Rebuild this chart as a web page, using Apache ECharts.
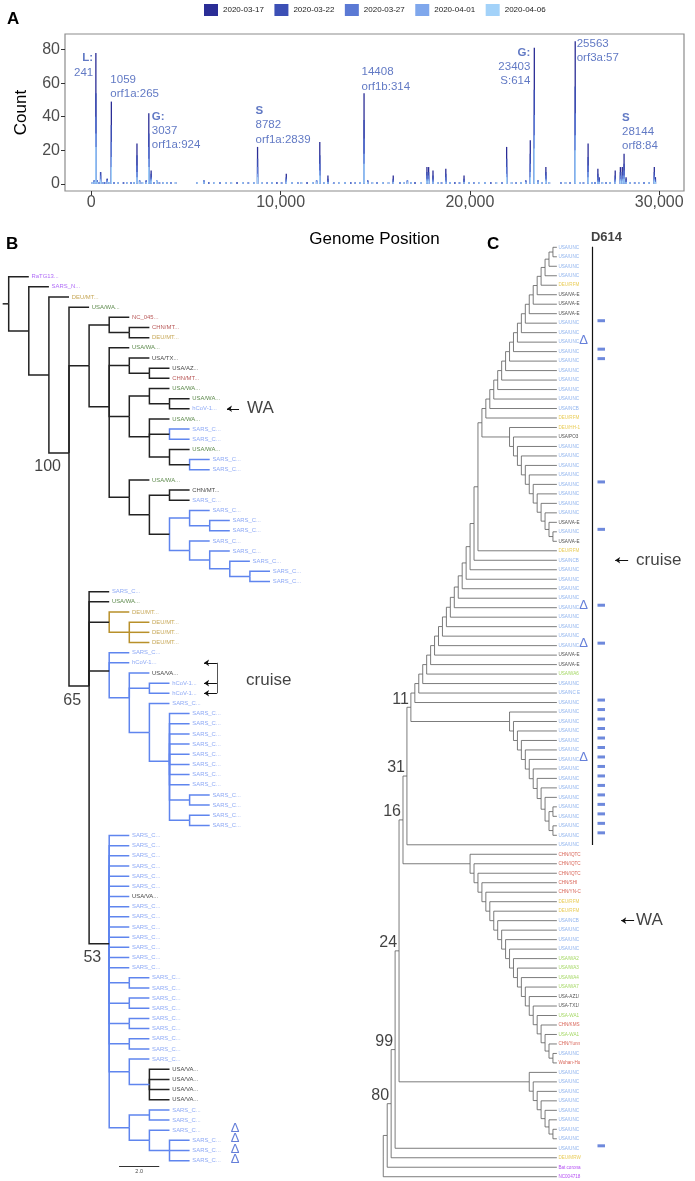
<!DOCTYPE html>
<html><head><meta charset="utf-8">
<script src="https://cdn.jsdelivr.net/npm/echarts@6.0.0/dist/echarts.min.js"></script>
<style>html,body{margin:0;padding:0;background:#fff}#c{width:695px;height:1181px}</style>
</head><body><div id="c"></div>
<script>
const FF = '"Liberation Sans", Arial, Helvetica, sans-serif';

// ================= Panel A data =================
const dates = ['2020-03-17','2020-03-22','2020-03-27','2020-04-01','2020-04-06'];
const dateColors = ['#2b2d96','#3c4fb5','#5b79d4','#7fa7ec','#a3d2f9'];
const genomePositions = [60,150,241,320,420,490,620,700,840,950,1059,1200,1400,1700,1900,2100,2250,2412,2550,2700,2900,3037,3160,3300,3450,3600,3800,4000,4200,4450,5600,5950,6200,6500,6800,7100,7400,7700,8000,8300,8600,8782,9000,9300,9550,9800,10050,10300,10600,10900,11100,11400,11700,11900,12070,12300,12500,12800,13100,13400,13700,13950,14200,14408,14600,14850,15100,15400,15700,15950,16300,16500,16700,16900,17100,17400,17730,17820,18050,18300,18500,18727,18950,19200,19450,19690,19950,20200,20500,20800,21100,21400,21700,21940,22200,22450,22700,22950,23190,23403,23600,23800,24013,24200,24800,25050,25300,25563,25800,26000,26244,26450,26600,26760,26830,27000,27200,27400,27676,27950,28050,28144,28250,28450,28700,28950,29200,29450,29742,29800];
const count0317 = [0,0,24,0,0,0,0,0,0,0, 14,0,0,0,0,0,0,7,0,0, 0,12,2,0,0,0,0,0,0,0, 0,0,0,0,0,0,0,0,0,0, 0,7,0,0,0,0,0,2,0,0, 0,0,0,0,8,0,2,0,0,0, 0,0,0,16,0,0,0,0,0,2, 0,0,0,0,0,0,3,3,3,0, 0,3,0,0,0,2,0,0,0,0, 0,0,0,7,0,0,0,0,8,25, 0,0,3,0,0,0,0,27,0,0, 8,0,0,3,1,0,0,0,3,3, 3,6,1,0,0,0,0,0,3,1];
const count0322 = [0,0,14,0,0,2,0,0,1,0, 10,0,0,0,0,0,0,6,0,0, 0,8,2,0,0,0,0,0,0,0, 0,0,0,0,0,0,0,0,0,0, 0,5,0,0,0,0,0,1,0,0, 0,0,0,0,5,0,1,0,0,0, 0,0,0,11,0,0,0,0,0,1, 0,0,0,0,0,0,2,2,2,0, 0,2,0,0,0,1,0,0,0,0, 0,0,0,5,0,0,0,0,6,15, 0,0,2,0,0,0,0,16,0,0, 5,0,0,2,1,0,0,0,2,2, 2,4,1,0,0,0,0,0,2,1];
const count0327 = [0,0,10,1,0,2,0,1,0,0, 9,0,0,1,0,0,0,4,0,0, 1,7,1,0,0,0,0,0,0,0, 0,0,1,0,0,0,0,1,0,0, 0,4,0,0,0,1,0,1,0,0, 0,1,0,0,4,0,1,0,0,0, 1,0,0,9,1,0,0,0,0,1, 0,0,0,0,1,0,2,2,1,0, 0,2,0,1,0,1,0,0,0,0, 1,0,0,4,0,0,0,1,5,12, 0,0,2,0,0,0,0,13,0,0, 4,0,0,2,1,0,0,0,1,2, 2,3,1,0,0,0,0,0,2,1];
const count0401 = [0,1,8,0,1,1,0,0,1,0, 6,1,0,0,0,1,0,3,1,0, 0,5,1,1,0,1,0,0,1,0, 0,1,0,0,1,0,0,0,0,1, 0,2,0,1,0,0,1,1,0,1, 0,0,0,1,3,0,0,1,0,0, 0,1,0,6,0,0,1,0,0,0, 1,0,1,0,0,0,1,1,1,0, 1,1,0,0,1,0,0,1,0,0, 0,0,1,2,0,1,0,0,3,8, 1,0,1,0,1,0,1,9,0,1, 3,0,1,1,0,0,1,0,1,1, 1,2,0,0,1,0,1,0,1,0];
const count0406 = [1,1,22,1,0,2,1,0,1,1, 10,0,1,0,1,0,1,4,1,1, 1,10,2,0,2,0,1,1,0,1, 1,1,0,1,0,1,1,0,1,0, 1,4,1,0,1,0,0,1,1,0, 1,0,1,1,5,1,1,0,1,1, 0,0,1,12,1,1,0,1,1,1, 0,1,1,1,0,1,2,2,1,1, 0,1,1,0,0,1,1,0,1,1, 0,1,0,4,1,0,1,1,4,21, 1,1,2,1,0,1,0,20,1,0, 4,1,0,1,1,1,0,1,1,2, 2,3,1,1,0,1,0,1,2,1];
const countsByDate = [count0317, count0322, count0327, count0401, count0406];
const xTickValues = [0, 10000, 20000, 30000];
const yTickValues = [0, 20, 40, 60, 80];

// annotated variants (position, bold head, text lines, label top in count units)
const annoPos   = [241, 1059, 3037, 8782, 14408, 23403, 25563, 28144];
const annoHead  = ['L:', '', 'G:', 'S', '', 'G:', '', 'S'];
const annoText  = ['241', '1059\norf1a:265', '3037\norf1a:924', '8782\norf1a:2839', '14408\norf1b:314', '23403\nS:614', '25563\norf3a:57', '28144\norf8:84'];
const annoTopY  = [79, 66.2, 44.2, 47.6, 70.7, 82.5, 87.5, 43.6];
// style: side and pixel offset of the label from its bar
const annoAlign = ['right','left','left','left','left','right','left','left'];
const annoDx    = [-2.7, -1, 3, -2, -2.5, -4, 1.5, -2];

// ================= Panel B tree (elbow, every branch read as 1.0) =================
const treeB = [
  '(RaTG13...@p,(SARS_N...@p,(DEU/MT...@y,(USA/WA...@g,',
  '((NC_045...@r,(CHN/MT...@r,DEU/MT...@y)),',
  '(USA/WA...@g,(USA/TX...@k,(USA/AZ...@k,CHN/MT...@r)),',
  '((USA/WA...@g,(USA/WA...@g,hCoV-1...@b)),(USA/WA...@g,(SARS_C...@b#b,SARS_C...@b#b),(USA/WA...@g,(SARS_C...@b#b,SARS_C...@b#b)))),',
  '(USA/WA...@g,((CHN/MT...@k,SARS_C...@b),((SARS_C...@b#b,(SARS_C...@b#b,SARS_C...@b#b)#b)#b,(SARS_C...@b#b,(SARS_C...@b#b,(SARS_C...@b#b,(SARS_C...@b#b,SARS_C...@b#b)#b)#b)#b)#b)))',
  ')),',
  '(SARS_C...@b,USA/WA...@g,(DEU/MT...@y#y,(DEU/MT...@y#y,DEU/MT...@y#y,DEU/MT...@y#y)#y),',
  '(SARS_C...@b#b,hCoV-1...@b#b,(USA/VA...@k#b,(hCoV-1...@b#b,hCoV-1...@b#b)#b,(SARS_C...@b#b,(SARS_C...@b#b,SARS_C...@b#b,SARS_C...@b#b,SARS_C...@b#b,SARS_C...@b#b,SARS_C...@b#b,SARS_C...@b#b,SARS_C...@b#b,(SARS_C...@b#b,SARS_C...@b#b)#b,(SARS_C...@b#b,SARS_C...@b#b)#b)#b)#b)#b),',
  '(SARS_C...@b#b,SARS_C...@b#b,SARS_C...@b#b,SARS_C...@b#b,SARS_C...@b#b,SARS_C...@b#b,USA/VA...@k#b,',
  'SARS_C...@b#b,SARS_C...@b#b,SARS_C...@b#b,SARS_C...@b#b,SARS_C...@b#b,SARS_C...@b#b,SARS_C...@b#b,',
  '(SARS_C...@b#b,SARS_C...@b#b)#b,(SARS_C...@b#b,SARS_C...@b#b)#b,(SARS_C...@b#b,SARS_C...@b#b)#b,(SARS_C...@b#b,SARS_C...@b#b)#b,',
  '(SARS_C...@b#b,(USA/VA...@k,USA/VA...@k,USA/VA...@k,USA/VA...@k)#b)#b,',
  '((SARS_C...@b#b,SARS_C...@b#b)#b,(SARS_C...@b#b^,(SARS_C...@b#b^,SARS_C...@b#b^,SARS_C...@b#b^)#b)#b)#b',
  ')53)65)100)))'
].join('');
const branchLengthB = 1.0;
const rootEdgeB = 0.3;
const scaleBarB = 2.0;

// ================= Panel C tree (cladogram, tips aligned) =================
const cP1 = '((((((' + '((((((' + '((((((' +
  'USA/UNC@b,USA/UNC@b),USA/UNC@b),USA/UNC@b),DEU/RFM@y),USA/VA-E@k),USA/VA-E@k),USA/VA-E@k),USA/UNC@b*),USA/UNC@b),USA/UNC@b^),USA/UNC@b*),USA/UNC@b*),USA/UNC@b),USA/UNC@b),USA/UNC@b),USA/UNC@b),USA/NCB@b),DEU/RFM@y)';
const cS1 = '(DEU/HH-1@y,(USA/PO3@k,(USA/UNC@b,(USA/UNC@b,(USA/UNC@b,(USA/UNC@b,(USA/UNC@b*,(USA/UNC@b,(USA/UNC@b,(USA/UNC@b,(USA/VA-E@k,(USA/UNC@b*,USA/VA-E@k' + '))))))' + '))))))';
const cSpine = '((((((' + '((((((' + '(((((' + '(' + cP1 + ',' + cS1 + ')' +
  ',DEU/RFM@y),USA/NCB@b),USA/UNC@b),USA/UNC@b),USA/UNC@b),USA/UNC@b),USA/UNC@b^*),USA/UNC@b),USA/UNC@b),USA/UNC@b),USA/UNC@b^*),USA/VA-E@k),USA/VA-E@k),USA/WA6@g),USA/UNC@b),USA/NC E@b),USA/UNC@b*)';
const cT2 = '(USA/UNC@b*,(USA/UNC@b*,(USA/UNC@b*,(USA/UNC@b*,(USA/UNC@b*,(USA/UNC@b^*,(USA/UNC@b*,(USA/UNC@b*,(USA/UNC@b*,(USA/UNC@b*,((USA/UNC@b*,USA/UNC@b*),(USA/UNC@b*,USA/UNC@b*' + '))))))' + '))))))';
const cCHN = '(CHN/IQTC@r,(CHN/IQTC@r,(CHN/IQTC@r,(CHN/SHI@r,(CHN/YN-C@r,(DEU/RFM@y,(DEU/RFM@y,(USA/NCB@b,(USA/UNC@b,(USA/UNC@b,(USA/UNC@b,(USA/WA2@g,(USA/WA3@g,(USA/WA4@g,(USA/WA7@g,(USA-AZ1/@k,(USA-TX1/@k,(USA-WA1@g,(CHN/KMS@r,(USA-WA1@g,(CHN/Yunn@r,(USA/UNC@b,Wuhan-Hu@r' + '))))))))))' + '))))))))))' + '))';
const cT3 = '(USA/UNC@b,(USA/UNC@b,(USA/UNC@b,(USA/UNC@b,(USA/UNC@b,(USA/UNC@b,(USA/UNC@b,USA/UNC@b)))))))';
const cN11 = '(' + cSpine + ',' + cT2 + ')11';
const cN31 = '(' + cN11 + ',USA/UNC@b)31';
const cN16 = '(' + cN31 + ',' + cCHN + ')16';
const cN24 = '(' + cN16 + ',' + cT3 + ')24';
const cN99 = '(' + cN24 + ',USA/UNC@b*)99';
const cN80 = '(' + cN99 + ',DEU/MRW@y)80';
const treeC = '((' + cN80 + ',Bat corona@p),NC004718@p)';
const d614LeafRange = [0, 63];   // leaves carrying D614 bar (0-based)

// ================= colours =================
const colB = {p:'#9b45f5', y:'#b8902a', g:'#336b1e', r:'#a83030', k:'#111111', b:'#6f92f2'};
const edgeColB = {k:'#222222', b:'#5f85ee', y:'#b8902a'};
const colC = {b:'#74a0ea', y:'#e3bf2c', k:'#222222', g:'#8ccd3a', r:'#d0402f', p:'#a020f0'};
const markBlue = '#4a6bd3';

// ================= tree helpers =================
function parseTree(str){
  let i = 0;
  function node(){
    const n = {children: []};
    if (str[i] === '('){
      i++;
      for(;;){
        n.children.push(node());
        if (str[i] === ','){ i++; continue; }
        if (str[i] === ')'){ i++; break; }
        throw new Error('parse error at ' + i + ': ' + str.slice(Math.max(0,i-15), i+15));
      }
    }
    let tok = '';
    while (i < str.length && ',()'.indexOf(str[i]) < 0) tok += str[i++];
    const m = tok.match(/^([^@#\^\*]*)(?:@(\w))?(?:#(\w))?([\^\*]*)$/);
    if (!m) throw new Error('bad token ' + tok);
    n.name = m[1]; n.lc = m[2] || 'k'; n.ec = m[3] || 'k';
    n.delta = m[4].indexOf('^') >= 0; n.mark = m[4].indexOf('*') >= 0;
    return n;
  }
  const r = node();
  if (i !== str.length) throw new Error('trailing at ' + i);
  return r;
}
function layoutTree(root){
  const leaves = [], internals = [];
  let k = 0;
  (function rec(n, depth){
    n.depth = depth;
    if (!n.children.length){ n.y = k++; n.h = 0; leaves.push(n); return; }
    n.children.forEach(c => rec(c, depth + branchLengthB));
    n.y = n.children.reduce((s,c)=>s+c.y,0) / n.children.length;
    n.h = 1 + Math.max.apply(null, n.children.map(c=>c.h));
    internals.push(n);
  })(root, 0);
  return {root, leaves, internals};
}
function edges(t, xOf, colMap){
  const out = [];
  t.internals.forEach(p => p.children.forEach(c => {
    out.push({coords: [[xOf(p), p.y], [xOf(p), c.y], [xOf(c), c.y]], lineStyle: {color: colMap[c.ec]}});
  }));
  return out;
}

const TB = layoutTree(parseTree(treeB));
const TC = layoutTree(parseTree(treeC));
const xB = n => n.depth, xC = n => n.h;

// layout constants (axis units)
const B_DELTA_X = 11.26, C_DELTA_X = -6.74, C_MARK_X = -11.24, C_D614_X = -8.89;

// ================= series =================
const series = [];
// stacked bars: later dates at the bottom; each layer drawn as the running total, tallest first
for (let k = 0; k < dates.length; k++){
  series.push({
    type: 'bar', name: dates[k], xAxisIndex: 0, yAxisIndex: 0, barGap: '-100%',
    barWidth: 1.3, silent: true, itemStyle: {color: dateColors[k]},
    data: genomePositions.map((p, i) => {
      let s = 0; for (let j = k; j < dates.length; j++) s += countsByDate[j][i];
      return [p, s];
    })
  });
}
series.push({
  type: 'scatter', xAxisIndex: 0, yAxisIndex: 0, symbolSize: 0, silent: true, clip: false,
  itemStyle: {color: 'transparent'},
  data: annoPos.map((p, i) => ({
    value: [p, annoTopY[i]],
    label: {align: annoAlign[i], position: [annoDx[i], 0]}
  })),
  label: {
    show: true, verticalAlign: 'top',
    formatter: p => {
      const i = p.dataIndex;
      let s = annoHead[i] ? '{h|' + annoHead[i] + '}\n' : '';
      return s + annoText[i].split('\n').map(t => '{n|' + t + '}').join('\n');
    },
    rich: {
      h: {fontFamily: FF, fontSize: 11.5, fontWeight: 'bold', lineHeight: 14.2, color: '#3a57b5'},
      n: {fontFamily: FF, fontSize: 11.5, lineHeight: 14.2, color: '#3a57b5'}
    }
  }
});

// ---- Panel B ----
const edgesB = edges(TB, xB, edgeColB);
edgesB.unshift({coords: [[-rootEdgeB, TB.root.y], [0, TB.root.y]], lineStyle: {color: edgeColB.k}});
series.push({type: 'lines', coordinateSystem: 'cartesian2d', xAxisIndex: 1, yAxisIndex: 1, polyline: true,
  silent: true, clip: false, lineStyle: {width: 1.5, opacity: 1}, data: edgesB});
series.push({type: 'scatter', xAxisIndex: 1, yAxisIndex: 1, symbolSize: 0, silent: true, clip: false,
  itemStyle: {color: 'transparent'},
  label: {show: true, position: 'right', distance: 2.7, formatter: '{b}', fontFamily: FF, fontSize: 5.9},
  data: TB.leaves.map(l => ({name: l.name, value: [xB(l), l.y], label: {color: colB[l.lc]}}))});
series.push({type: 'scatter', xAxisIndex: 1, yAxisIndex: 1, symbolSize: 0, silent: true, clip: false,
  itemStyle: {color: 'transparent'},
  label: {show: true, position: [-8, 14], align: 'right', verticalAlign: 'middle', formatter: '{b}',
    fontFamily: FF, fontSize: 16, color: '#111'},
  data: TB.internals.filter(n => n.name).map(n => ({name: n.name, value: [xB(n), n.y]}))});
series.push({type: 'scatter', xAxisIndex: 1, yAxisIndex: 1, symbolSize: 0, silent: true, clip: false,
  itemStyle: {color: 'transparent'},
  label: {show: true, position: 'inside', formatter: '\u0394', fontFamily: FF, fontSize: 13, color: '#3f5fcf'},
  data: TB.leaves.filter(l => l.delta).map(l => [B_DELTA_X, l.y - 0.15])});
// arrows B: WA (leaf 14) and cruise (leaves 39, 41, 42)
const waLeafB = 13, cruiseLeavesB = [38, 40, 41];
series.push({type: 'lines', coordinateSystem: 'cartesian2d', xAxisIndex: 1, yAxisIndex: 1, silent: true, clip: false,
  symbol: ['none', 'arrow'], symbolSize: 5, lineStyle: {width: 1, color: '#111', opacity: 1},
  data: [{coords: [[11.46, waLeafB], [10.86, waLeafB]]}].concat(
    cruiseLeavesB.map(li => ({coords: [[10.36, li], [9.72, li]]})))});
series.push({type: 'lines', coordinateSystem: 'cartesian2d', xAxisIndex: 1, yAxisIndex: 1, silent: true, clip: false,
  lineStyle: {width: 1, color: '#555', opacity: 1},
  data: [{coords: [[10.36, cruiseLeavesB[0]], [10.36, cruiseLeavesB[2]]]},
         {coords: [[5.49, 87.52], [5.49 + scaleBarB, 87.52]], lineStyle: {color: '#333'}}]});
series.push({type: 'scatter', xAxisIndex: 1, yAxisIndex: 1, symbolSize: 0, silent: true, clip: false,
  itemStyle: {color: 'transparent'},
  label: {show: true, position: 'inside', formatter: '{b}', fontFamily: FF, color: '#111', align: 'left', verticalAlign: 'middle'},
  data: [
    {name: 'WA', value: [11.86, waLeafB], label: {fontSize: 17}},
    {name: 'cruise', value: [11.81, 39.69], label: {fontSize: 17}},
    {name: scaleBarB.toFixed(1), value: [5.49 + scaleBarB / 2, 88.1], label: {fontSize: 5.5, align: 'center'}}
  ]});

// ---- Panel C ----
series.push({type: 'lines', coordinateSystem: 'cartesian2d', xAxisIndex: 2, yAxisIndex: 2, polyline: true,
  silent: true, clip: false, lineStyle: {width: 0.8, color: '#5a5a5a', opacity: 1},
  data: edges(TC, xC, {k: '#5a5a5a'})});
series.push({type: 'scatter', xAxisIndex: 2, yAxisIndex: 2, symbolSize: 0, silent: true, clip: false,
  itemStyle: {color: 'transparent'},
  label: {show: true, position: 'right', distance: 1.5, formatter: '{b}', fontFamily: FF, fontSize: 4.6},
  data: TC.leaves.map(l => ({name: l.name, value: [xC(l), l.y], label: {color: colC[l.lc]}}))});
series.push({type: 'scatter', xAxisIndex: 2, yAxisIndex: 2, symbolSize: 0, silent: true, clip: false,
  itemStyle: {color: 'transparent'},
  label: {show: true, position: [-2, -8], align: 'right', verticalAlign: 'middle', formatter: '{b}',
    fontFamily: FF, fontSize: 16, color: '#111'},
  data: TC.internals.filter(n => n.name).map(n => ({name: n.name, value: [xC(n), n.y]}))});
series.push({type: 'scatter', xAxisIndex: 2, yAxisIndex: 2, symbolSize: 0, silent: true, clip: false,
  itemStyle: {color: 'transparent'},
  label: {show: true, position: 'inside', formatter: '\u0394', fontFamily: FF, fontSize: 13, color: '#3f5fcf'},
  data: TC.leaves.filter(l => l.delta).map(l => [C_DELTA_X, l.y - 0.2])});
series.push({type: 'scatter', xAxisIndex: 2, yAxisIndex: 2, symbol: 'rect', symbolSize: [7.5, 3], silent: true, clip: false,
  itemStyle: {color: markBlue},
  data: TC.leaves.filter(l => l.mark).map(l => [C_MARK_X, l.y - 0.26])});
const cruiseLeafC = 33, waLeafC = 71;
series.push({type: 'lines', coordinateSystem: 'cartesian2d', xAxisIndex: 2, yAxisIndex: 2, silent: true, clip: false,
  lineStyle: {width: 1.2, color: '#111', opacity: 1},
  data: [{coords: [[C_D614_X, d614LeafRange[0] - 0.06], [C_D614_X, d614LeafRange[1] + 0.03]]}]});
series.push({type: 'lines', coordinateSystem: 'cartesian2d', xAxisIndex: 2, yAxisIndex: 2, silent: true, clip: false,
  symbol: ['none', 'arrow'], symbolSize: 5, lineStyle: {width: 1, color: '#111', opacity: 1},
  data: [{coords: [[-18.06, cruiseLeafC], [-14.77, cruiseLeafC]]}, {coords: [[-19.57, waLeafC], [-16.29, waLeafC]]}]});
series.push({type: 'scatter', xAxisIndex: 2, yAxisIndex: 2, symbolSize: 0, silent: true, clip: false,
  itemStyle: {color: 'transparent'},
  label: {show: true, position: 'inside', formatter: '{b}', fontFamily: FF, color: '#111', align: 'left', verticalAlign: 'middle'},
  data: [
    {name: 'cruise', value: [-20.07, cruiseLeafC], label: {fontSize: 17}},
    {name: 'WA', value: [-20.07, waLeafC], label: {fontSize: 17}},
    {name: 'D614', value: [C_D614_X + 0.25, -1.09], label: {fontSize: 13, fontWeight: 'bold'}}
  ]});

// ================= chart =================
const hidden = {show: false};
const option = {
  animation: false,
  backgroundColor: '#ffffff',
  legend: {
    data: dates, left: 204, top: 4, padding: 0, itemWidth: 14, itemHeight: 12, itemGap: 10.5, icon: 'rect',
    selectedMode: false, textStyle: {fontFamily: FF, fontSize: 8, color: '#222'}
  },
  grid: [
    {left: 65, top: 34, width: 619, height: 157, show: true, borderColor: '#8c8c8c', borderWidth: 1.2, containLabel: false},
    {left: 0.66, top: 276.7, width: 611.04, height: 904.3},
    {left: 383.26, top: 228.33, width: 312.84, height: 948.4}
  ],
  xAxis: [
    {type: 'value', gridIndex: 0, min: -1390, max: 31310, splitLine: hidden,
     axisLine: {show: false, onZero: false},
     axisTick: {show: true, length: 4, customValues: xTickValues, lineStyle: {color: '#333'}},
     axisLabel: {customValues: xTickValues, fontFamily: FF, fontSize: 16, color: '#4d4d4d', margin: 4},
     name: 'Genome Position', nameLocation: 'middle', nameGap: 40,
     nameTextStyle: {fontFamily: FF, fontSize: 17, color: '#000'}},
    {type: 'value', gridIndex: 1, min: -0.4, max: 30, show: false},
    {type: 'value', gridIndex: 2, min: -35, max: 44, inverse: true, show: false}
  ],
  yAxis: [
    {type: 'value', gridIndex: 0, min: -4.25, max: 89.25, splitLine: hidden,
     axisLine: {show: false, onZero: false},
     axisTick: {show: true, length: 4, customValues: yTickValues, lineStyle: {color: '#333'}},
     axisLabel: {customValues: yTickValues, fontFamily: FF, fontSize: 16, color: '#4d4d4d', margin: 5},
     name: 'Count', nameLocation: 'middle', nameGap: 35, nameRotate: 90,
     nameTextStyle: {fontFamily: FF, fontSize: 17, color: '#000'}},
    {type: 'value', gridIndex: 1, min: 0, max: 89, inverse: true, show: false},
    {type: 'value', gridIndex: 2, min: -2, max: 98, inverse: true, show: false}
  ],
  graphic: [
    {type: 'text', left: 7, top: 11, style: {text: 'A', font: 'bold 17px ' + FF, fill: '#000'}},
    {type: 'text', left: 6, top: 236, style: {text: 'B', font: 'bold 17px ' + FF, fill: '#000'}},
    {type: 'text', left: 487, top: 236, style: {text: 'C', font: 'bold 17px ' + FF, fill: '#000'}}
  ],
  series: series
};
const chart = echarts.init(document.getElementById('c'), null, {renderer: 'canvas', width: 695, height: 1181});
chart.setOption(option);
</script></body></html>
